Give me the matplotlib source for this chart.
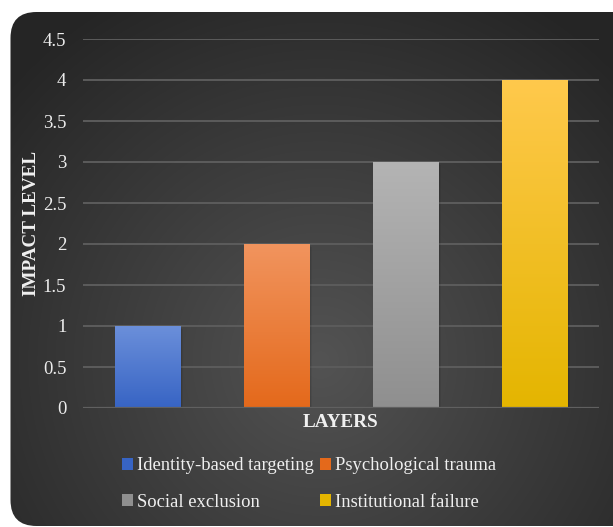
import numpy as np
import matplotlib
matplotlib.use("Agg")
import matplotlib.pyplot as plt
from matplotlib.patches import FancyBboxPatch, Rectangle, Patch
from matplotlib.colors import LinearSegmentedColormap
import matplotlib.transforms as mtransforms

# data
categories = ["Identity-based targeting", "Psychological trauma",
              "Social exclusion", "Institutional failure"]
values = [1, 2, 3, 4]
yticks = [0, 0.5, 1, 1.5, 2, 2.5, 3, 3.5, 4, 4.5]
ytick_labels = ["0", "0.5", "1", "1.5", "2", "2.5", "3", "3.5", "4", "4.5"]
top_colors = ["#6b8fda", "#f1945e", "#b4b4b4", "#ffc94c"]
bottom_colors = ["#3764c4", "#e4691b", "#8f8f8f", "#e4b500"]

plt.rcParams["font.family"] = ["Liberation Serif", "DejaVu Serif"]

W, H = 613, 527
fig = plt.figure(figsize=(W / 100, H / 100), dpi=100)
fig.patch.set_facecolor("white")

# background panel with radial gradient and rounded corners
bg = fig.add_axes([0, 0, 1, 1], zorder=-5)
bg.set_xlim(0, W)
bg.set_ylim(H, 0)
bg.axis("off")
yy, xx = np.mgrid[0:H, 0:W]
r = np.sqrt(((xx - 320) / 420.0) ** 2 + ((yy - 360) / 420.0) ** 2)
shade = np.clip(1 - r, 0, 1)
c0, c1 = np.array([0x25, 0x25, 0x25]) / 255, np.array([0x53, 0x53, 0x53]) / 255
img = c0 + (c1 - c0) * shade[..., None]
im = bg.imshow(img, extent=(0, W, H, 0), aspect="auto", interpolation="bilinear")
panel = FancyBboxPatch((10.5, 12), 640, 514, boxstyle="round,pad=0,rounding_size=26",
                       facecolor="none", edgecolor="none", transform=bg.transData)
bg.add_patch(panel)
im.set_clip_path(panel)

ax = fig.add_axes([83 / W, 1 - 408 / H, 516 / W, 369 / H])
ax.set_facecolor("none")
for s in ax.spines.values():
    s.set_visible(False)
ax.set_yticks(yticks)
ax.set_yticklabels(ytick_labels)
ax.set_xticks([])
ax.tick_params(axis="y", length=0, pad=12, labelsize=13.5, labelcolor="#ececec")
ax.grid(axis="y", color="#5c5c5c", linewidth=1.4)
ax.set_axisbelow(True)

x = np.arange(len(categories))
bar_w = 0.51
bars = ax.bar(x, values, width=bar_w, color="none", zorder=3)
for i, b in enumerate(bars):
    # soft shadow
    for k, a in enumerate([0.10, 0.08, 0.06]):
        sh = Rectangle((b.get_x(), 0), bar_w, values[i], transform=mtransforms.offset_copy(
            ax.transData, fig=fig, x=1 + k, y=-(1 + k), units="dots"),
            facecolor="black", alpha=a, edgecolor="none", zorder=2)
        ax.add_patch(sh)
    cmap = LinearSegmentedColormap.from_list("g%d" % i, [bottom_colors[i], top_colors[i]])
    grad = np.linspace(0, 1, 256).reshape(-1, 1)
    gi = ax.imshow(grad, cmap=cmap, origin="lower", aspect="auto",
                   extent=(b.get_x(), b.get_x() + bar_w, 0, values[i]), zorder=4)
    gi.set_clip_path(b)

ax.set_xlim(-0.5, 3.5)
ax.set_ylim(0, 4.5)
ax.axhline(0, color="#606060", linewidth=1.6, zorder=5)

ax.set_ylabel("IMPACT LEVEL", fontsize=13.8, fontweight="bold", color="#f0f0f0", labelpad=2)
ax.set_xlabel("LAYERS", fontsize=13.8, fontweight="bold", color="#f0f0f0", labelpad=4)

handles = [Patch(facecolor=bottom_colors[i], edgecolor="none") for i in range(4)]
order = [0, 2, 1, 3]
leg = fig.legend([handles[i] for i in order], [categories[i] for i in order],
                 ncol=2, loc="center", bbox_to_anchor=(309 / W, 1 - 484 / H),
                 frameon=False, fontsize=13.4, labelcolor="#f0f0f0",
                 handlelength=0.62, handleheight=0.62, handletextpad=0.2,
                 columnspacing=0.3, labelspacing=1.05)
for t in leg.get_texts():
    t.set_ha("left")

fig.savefig("out.png", dpi=100, facecolor="white")
